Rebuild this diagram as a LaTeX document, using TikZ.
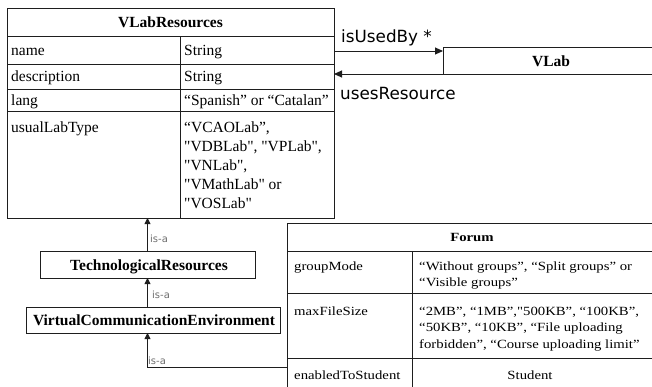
\documentclass[tikz,border=0pt]{standalone}
\usepackage{fontspec}
\newfontfamily\serif{Liberation Serif}
\newfontfamily\sansf{DejaVu Sans}
\newfontfamily\forumf[FakeStretch=1.18]{Liberation Serif}
\usetikzlibrary{arrows.meta,calc}
\definecolor{linec}{HTML}{1E1E1E}
\definecolor{isac}{HTML}{6E6E6E}
\begin{document}
\begin{tikzpicture}[x=1pt,y=-1pt,
  box/.style={draw=linec,line width=0.9pt,inner sep=0pt,outer sep=0pt,anchor=north west},
  tline/.style={draw=linec,line width=0.9pt},
  cell/.style={inner sep=0pt,anchor=base west,font=\serif\fontsize{15.5}{19.5}\selectfont},
  hdr/.style={inner sep=0pt,anchor=base,font=\serif\fontsize{15.5}{19.5}\selectfont\bfseries},
  fcell/.style={inner sep=0pt,anchor=base west,font=\forumf\fontsize{12.5}{16.5}\selectfont},
  fhdr/.style={inner sep=0pt,anchor=base,font=\forumf\fontsize{12.5}{16.5}\selectfont\bfseries},
  fcenter/.style={inner sep=0pt,anchor=base,font=\forumf\fontsize{12.5}{16.5}\selectfont},
  rolelab/.style={inner sep=0pt,anchor=base west,font=\sansf\fontsize{16.8}{20}\selectfont},
  isalab/.style={inner sep=0pt,anchor=base west,text=isac,font=\sansf\fontsize{10}{12}\selectfont},
  assoc/.style={draw=linec,line width=0.9pt,-{Triangle[length=8pt,width=7pt]}},
  isa/.style={draw=linec,line width=0.9pt,-{Triangle[length=6pt,width=6pt]}}
]
\useasboundingbox (0,0) rectangle (652,386);

% ---------- VLabResources table ----------
\node[box,minimum width=327pt,minimum height=210pt] (vlabres) at (7,8) {};
\draw[tline] (vlabres.west |- 0,36) -- (vlabres.east |- 0,36);
\draw[tline] (vlabres.west |- 0,64) -- (vlabres.east |- 0,64);
\draw[tline] (vlabres.west |- 0,89) -- (vlabres.east |- 0,89);
\draw[tline] (vlabres.west |- 0,111) -- (vlabres.east |- 0,111);
\draw[tline] (180,36) -- (vlabres.south -| 180,0);
\node[hdr] (vrh) at (170.5,27) {VLabResources};
\node[cell] (n1) at (11,55) {name};
\node[cell] (n2) at (184,55) {String};
\node[cell] (d1) at (11,81) {description};
\node[cell] (d2) at (184,81) {String};
\node[cell] (g1) at (11,105) {lang};
\node[cell] (g2) at (184,105) {“Spanish” or “Catalan”};
\node[cell] (t1) at (11,132) {usualLabType};
\node[cell] (t2a) at (184,132) {“VCAOLab”,};
\node[cell] (t2b) at (184,151) {"VDBLab", "VPLab",};
\node[cell] (t2c) at (184,170) {"VNLab",};
\node[cell] (t2d) at (184,189) {"VMathLab" or};
\node[cell] (t2e) at (184,208) {"VOSLab"};

% ---------- VLab ----------
\node[box,minimum width=216pt,minimum height=27pt] (vlab) at (443,47) {};
\node[hdr] (vlabt) at (551,66) {VLab};

\coordinate (u1) at (443,51);
\draw[assoc] (vlabres.east |- u1) -- (u1);
\draw[assoc] (vlab.south west) -- (vlabres.east |- vlab.south west);
\node[rolelab] (lab1) at (341,42) {isUsedBy *};
\node[rolelab] (lab2) at (340,99) {usesResource};

% ---------- hierarchy ----------
\node[box,minimum width=215pt,minimum height=27pt] (techres) at (40,251) {};
\node[hdr] (techt) at (149,270) {TechnologicalResources};
\node[box,minimum width=254pt,minimum height=26pt] (vce) at (26,307) {};
\node[hdr] (vcet) at (154,325.5) {VirtualCommunicationEnvironment};

\draw[isa] (techres.north) -- (techres.north |- vlabres.south);
\draw[isa] (vce.north -| techres.north) -- (techres.south);
\coordinate (f1) at (287,367);

% ---------- Forum table ----------
\node[box,minimum width=370pt,minimum height=175pt] (forum) at (287,223) {};
\draw[tline] (forum.west |- 0,251) -- (forum.east |- 0,251);
\draw[tline] (forum.west |- 0,293) -- (forum.east |- 0,293);
\draw[tline] (forum.west |- 0,358) -- (forum.east |- 0,358);
\draw[tline] (412,251) -- (forum.south -| 412,0);
\node[fhdr] (fh) at (472,241) {Forum};
\node[fcell] (fa1) at (294,270) {groupMode};
\node[fcell] (fa2a) at (419,270) {“Without groups”, “Split groups” or};
\node[fcell] (fa2b) at (419,286) {“Visible groups”};
\node[fcell] (fb1) at (294,315) {maxFileSize};
\node[fcell] (fb2a) at (419,315) {“2MB”, “1MB”,"500KB”, “100KB”,};
\node[fcell] (fb2b) at (419,331.5) {“50KB”, “10KB”, “File uploading};
\node[fcell] (fb2c) at (419,348) {forbidden”, “Course uploading limit”};
\node[fcell] (fc1) at (294,379) {enabledToStudent};
\node[fcenter] (fc2) at (530,379) {Student};

\draw[isa] (forum.west |- f1) -| (vce.south -| techres.north);

\node[isalab] (i1) at (150,242.5) {is-a};
\node[isalab] (i2) at (152,298.5) {is-a};
\node[isalab] (i3) at (148,364.5) {is-a};
\end{tikzpicture}
\end{document}
